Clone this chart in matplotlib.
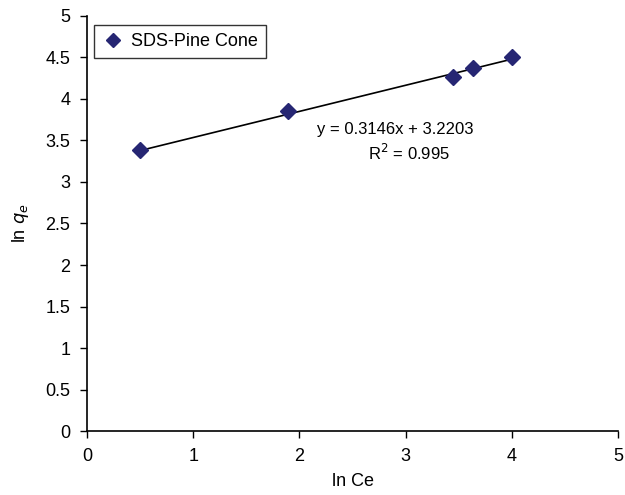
import matplotlib
matplotlib.use("Agg")
import matplotlib.pyplot as plt
import numpy as np

plt.rcParams['font.family'] = ['Liberation Sans', 'DejaVu Sans']

ln_ce = [0.50, 1.89, 3.45, 3.63, 4.00]
ln_qe = [3.38, 3.85, 4.26, 4.37, 4.51]
slope, intercept = 0.3146, 3.2203
series_label = "SDS-Pine Cone"
eq_line1 = "y = 0.3146x + 3.2203"
eq_line2 = "R$^2$ = 0.995"
xticks = [0, 1, 2, 3, 4, 5]
yticks = [0, 0.5, 1, 1.5, 2, 2.5, 3, 3.5, 4, 4.5, 5]

fig = plt.figure(figsize=(6.25, 4.95), dpi=100)
ax = fig.add_axes([0.139, 0.129, 0.850, 0.839])

xf = np.array([min(ln_ce), max(ln_ce)])
ax.plot(xf, slope * xf + intercept, color='black', lw=1.2, zorder=2)
ax.plot(ln_ce, ln_qe, linestyle='none', marker='D', ms=8, color='#262673',
        markeredgecolor='#262673', label=series_label, zorder=3)

ax.set_xlim(0, 5)
ax.set_ylim(0, 5)
ax.set_xticks(xticks)
ax.set_yticks(yticks)
ax.set_xticklabels([str(t) for t in xticks])
ax.set_yticklabels([f"{t:g}" for t in yticks])
ax.tick_params(direction='out', length=5, width=1, labelsize=13, colors='black')
ax.tick_params(axis='x', pad=7)
ax.tick_params(axis='y', pad=7)
for s in ['top', 'right']:
    ax.spines[s].set_visible(False)
for s in ['left', 'bottom']:
    ax.spines[s].set_linewidth(1.2)

ax.set_xlabel("ln Ce", fontsize=13, labelpad=6)
ax.set_ylabel("ln $q_e$", fontsize=13, labelpad=10)

ax.text(2.90, 3.63, eq_line1, ha='center', va='center', fontsize=12)
ax.text(3.03, 3.35, eq_line2, ha='center', va='center', fontsize=12)

leg = ax.legend(loc='upper left', bbox_to_anchor=(0.013, 0.978), borderaxespad=0,
                fontsize=13, frameon=True, fancybox=False, edgecolor='black',
                handletextpad=0.4, borderpad=0.45, handlelength=1.2, markerscale=0.9)
leg.get_frame().set_linewidth(1.0)

fig.savefig("out.png", dpi=100)
